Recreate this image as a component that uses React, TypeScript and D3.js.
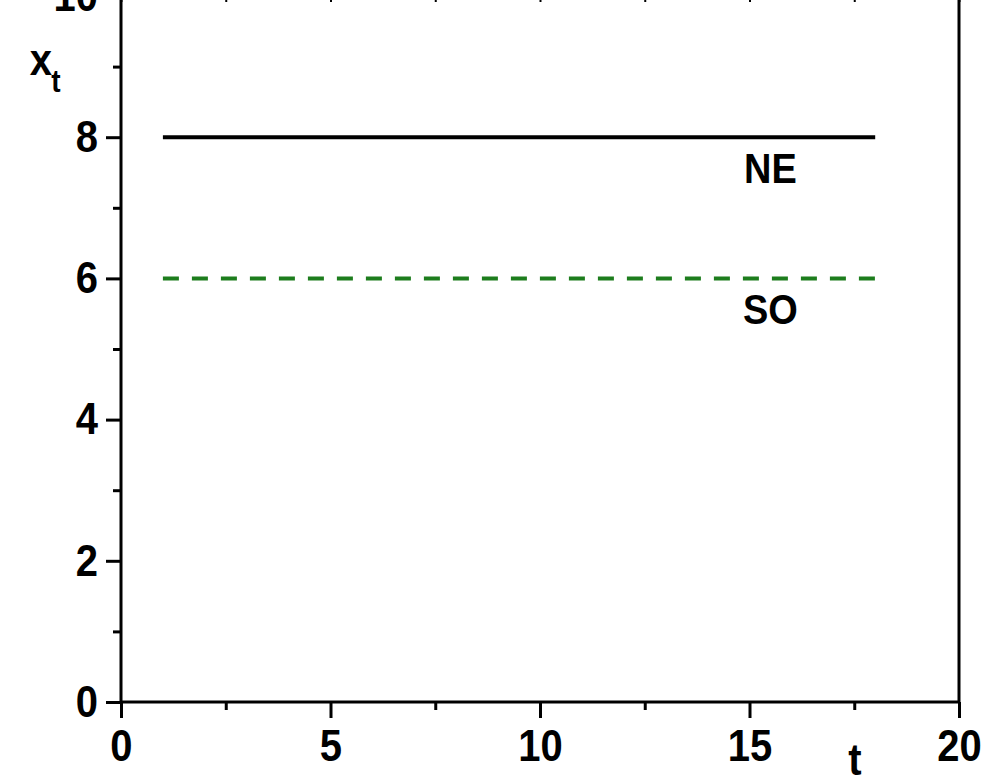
import React, { useRef, useEffect } from "react";
import * as d3 from "d3";

// time points and the two constant paths
const tValues = [1, 18];
const neValues = [8, 8];
const soValues = [6, 6];

const xMajorTicks = [0, 5, 10, 15, 20];
const xMinorTicks = [2.5, 7.5, 12.5, 17.5];
const yMajorTicks = [0, 2, 4, 6, 8, 10];
const yMinorTicks = [1, 3, 5, 7, 9];

const lineLabels = ["NE", "SO"];

const App = () => {
    const ref = useRef<SVGSVGElement>(null);

    useEffect(() => {
        const svg = d3.select(ref.current);
        svg.selectAll("*").remove();

        const width = 988;
        const height = 778;
        const font = "'Liberation Sans', Arial, sans-serif";
        const stretch = 1.12; // glyphs in the original are a bit taller than wide

        svg.attr("width", width).attr("height", height).style("background", "#fff");

        const x = d3.scaleLinear().domain([0, 20]).range([121, 959]);
        const y = d3.scaleLinear().domain([0, 10]).range([702, -4]);

        const styleAxis = (g, w) => {
            g.select(".domain").remove();
            g.selectAll("line").attr("stroke", "#000").attr("stroke-width", w);
            g.selectAll("text")
                .attr("fill", "#000")
                .attr("transform", `scale(1,${stretch})`)
                .style("font-family", font)
                .style("font-weight", "bold")
                .style("font-size", "40px");
        };

        // bottom axis
        svg.append("g")
            .attr("transform", `translate(0,${y(0)})`)
            .call(d3.axisBottom(x).tickValues(xMajorTicks).tickSize(16).tickPadding(8).tickFormat(d3.format("d")))
            .call(g => styleAxis(g, 3));
        svg.append("g")
            .attr("transform", `translate(0,${y(0)})`)
            .call(d3.axisBottom(x).tickValues(xMinorTicks).tickSize(8).tickFormat(() => ""))
            .call(g => styleAxis(g, 3));

        // left axis
        svg.append("g")
            .attr("transform", `translate(${x(0)},0)`)
            .call(d3.axisLeft(y).tickValues(yMajorTicks).tickSize(15).tickPadding(8).tickFormat(d3.format("d")))
            .call(g => styleAxis(g, 3));
        svg.append("g")
            .attr("transform", `translate(${x(0)},0)`)
            .call(d3.axisLeft(y).tickValues(yMinorTicks).tickSize(8).tickFormat(() => ""))
            .call(g => styleAxis(g, 3));

        // top axis, tiny ticks pointing in
        svg.append("g")
            .attr("transform", `translate(0,${y(10)})`)
            .call(d3.axisBottom(x).tickValues([...xMajorTicks, ...xMinorTicks]).tickSize(6).tickFormat(() => ""))
            .call(g => styleAxis(g, 2));

        // frame
        svg.append("rect")
            .attr("x", x(0))
            .attr("y", y(10))
            .attr("width", x(20) - x(0))
            .attr("height", y(0) - y(10))
            .attr("fill", "none")
            .attr("stroke", "#000")
            .attr("stroke-width", 3);

        const line = d3.line<number>()
            .x((d, i) => x(tValues[i]))
            .y(d => y(d));

        svg.append("path")
            .datum(neValues)
            .attr("fill", "none")
            .attr("stroke", "#000")
            .attr("stroke-width", 4)
            .attr("d", line);

        svg.append("path")
            .datum(soValues)
            .attr("fill", "none")
            .attr("stroke", "#1d7d1d")
            .attr("stroke-width", 4)
            .attr("stroke-dasharray", "16 13")
            .attr("d", line);

        const addText = (px, py, txt, size = 40, anchor = "middle") =>
            svg.append("text")
                .attr("transform", `translate(${px},${py}) scale(1,${stretch})`)
                .attr("text-anchor", anchor)
                .style("font-family", font)
                .style("font-weight", "bold")
                .style("font-size", `${size}px`)
                .text(txt);

        // line labels under the right end
        [neValues, soValues].forEach((vals, i) => {
            addText(x(15.5), y(vals[1]) + 46, lineLabels[i], 38);
        });

        // axis titles
        addText(855, 775, "t");
        addText(41, 75, "x");
        addText(56, 92, "t", 28);
    }, []);

    return (
        <svg ref={ref} style={{ position: "absolute", left: 0, top: 0 }}></svg>
    );
};

export default App;
